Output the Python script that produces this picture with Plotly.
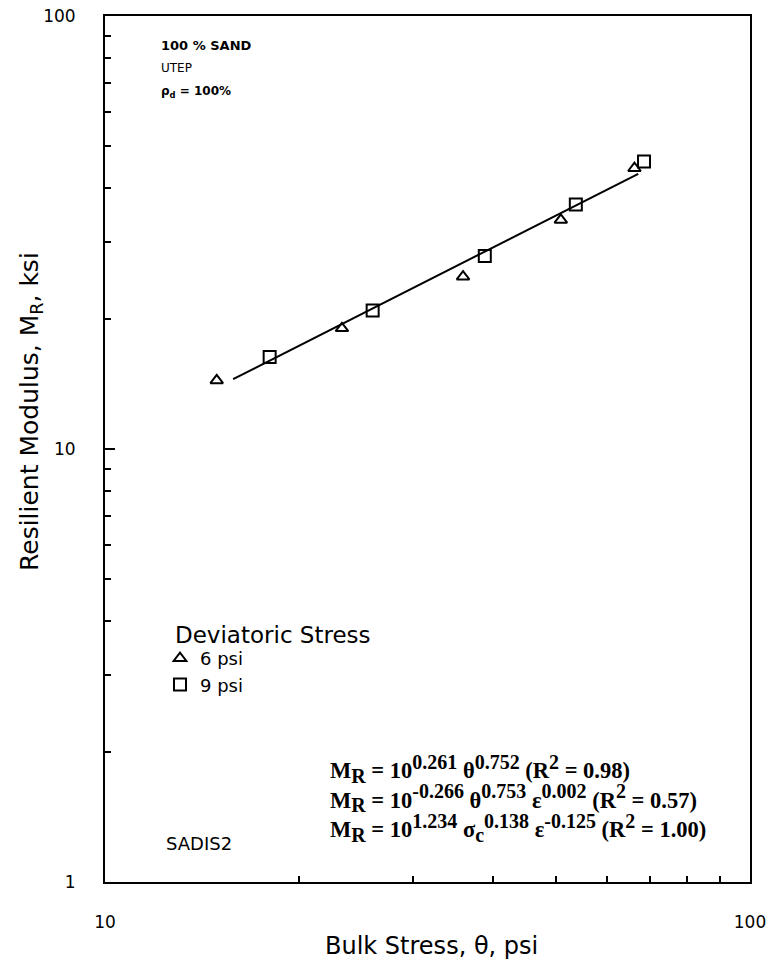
import plotly.graph_objects as go

# Data
tri_x = [14.9, 23.3, 35.9, 50.9, 66.2]
tri_y = [14.4, 19.0, 25.0, 33.8, 44.5]
sq_x = [18.0, 26.0, 38.8, 53.7, 68.5]
sq_y = [16.3, 20.9, 27.9, 36.7, 46.1]
fit_x = [15.8, 67.1]
fit_y = [14.5, 43.2]

x_tickvals = [10, 100]
x_ticktext = ["10", "100"]
y_tickvals = [1, 10, 100]
y_ticktext = ["1", "10", "100"]
minor_vals = [2, 3, 4, 5, 6, 7, 8, 9, 20, 30, 40, 50, 60, 70, 80, 90]

W, H = 774, 967
plot_left, plot_top, plot_w, plot_h = 105, 16, 645, 866


def px(x):
    return (x - plot_left) / plot_w


def py(y):
    return 1 - (y - plot_top) / plot_h


fig = go.Figure()
fig.add_trace(go.Scatter(x=fit_x, y=fit_y, mode="lines",
                         line=dict(color="black", width=2), showlegend=False))
fig.add_trace(go.Scatter(x=tri_x, y=tri_y, mode="markers", name="6 psi",
                         marker=dict(symbol="triangle-up-open", size=11, color="black",
                                     line=dict(width=2, color="black"))))
fig.add_trace(go.Scatter(x=sq_x, y=sq_y, mode="markers", name="9 psi",
                         marker=dict(symbol="square-open", size=12, color="black",
                                     line=dict(width=2, color="black"))))

axis_common = dict(type="log", showgrid=False, zeroline=False, showline=True,
                   linecolor="black", linewidth=2, mirror=True, automargin=False,
                   ticks="inside", ticklen=10, tickwidth=1.5, tickcolor="black",
                   ticklabeloverflow="allow",
                   tickfont=dict(family="DejaVu Sans", size=17, color="black"),
                   minor=dict(tickvals=minor_vals, ticks="inside", ticklen=6,
                              tickwidth=1.5, tickcolor="black", showgrid=False))

fig.update_xaxes(range=[1, 2], tickvals=x_tickvals, ticktext=x_ticktext,
                 ticklabelstandoff=24, **axis_common)
fig.update_yaxes(range=[0, 2], tickvals=y_tickvals, ticktext=y_ticktext,
                 ticklabelstandoff=24, **axis_common)


def note(x, y, text, size, family="DejaVu Sans", xanchor="left", angle=0, align="left"):
    return dict(x=px(x), xref="paper", y=py(y), yref="paper", text=text,
                showarrow=False, xanchor=xanchor, yanchor="middle", textangle=angle,
                align=align, font=dict(family=family, size=size, color="black"))


annotations = [
    note(31, 412, "Resilient Modulus, M<sub>R</sub>, ksi", 25, xanchor="center", angle=-90,
         align="center"),
    note(431, 946, "Bulk Stress, θ, psi", 24, xanchor="center", align="center"),
    note(159, 45, "<b>100 % SAND</b>", 13),
    note(159, 68, "UTEP", 12),
    note(159, 92, "<b>ρ<sub>d</sub> = 100%</b>", 12),
    note(164, 843, "SADIS2", 18),
    note(173, 635, "Deviatoric Stress", 23),
]


def sp(t):
    return '<sup><span style="font-size:20px">' + t + '</span></sup>'


def sb(t):
    return '<sub><span style="font-size:20px">' + t + '</span></sub>'


eqs = [
    "M" + sb("R") + " = 10" + sp("0.261") + " θ" + sp("0.752") + " (R" + sp("2") + " = 0.98)",
    "M" + sb("R") + " = 10" + sp("-0.266") + " θ" + sp("0.753") + " ε" + sp("0.002") + " (R" + sp("2") + " = 0.57)",
    "M" + sb("R") + " = 10" + sp("1.234") + " σ" + sb("c") + sp("0.138") + " ε" + sp("-0.125") + " (R" + sp("2") + " = 1.00)",
]
annotations.append(note(328, 798, "<b>" + "<br>".join(eqs) + "</b>", 22.5,
                        family="Liberation Serif"))

fig.update_layout(
    width=W, height=H,
    margin=dict(l=plot_left, r=W - plot_left - plot_w, t=plot_top,
                b=H - plot_top - plot_h),
    paper_bgcolor="white", plot_bgcolor="white",
    annotations=annotations,
    legend=dict(x=px(160), y=py(640),
                xanchor="left", yanchor="top", bgcolor="rgba(0,0,0,0)",
                font=dict(family="DejaVu Sans", size=18, color="black"),
                tracegroupgap=0, itemwidth=30),
)

fig.write_html("out.html", config={"displayModeBar": False},
               post_script="document.body.style.margin='0px';")
